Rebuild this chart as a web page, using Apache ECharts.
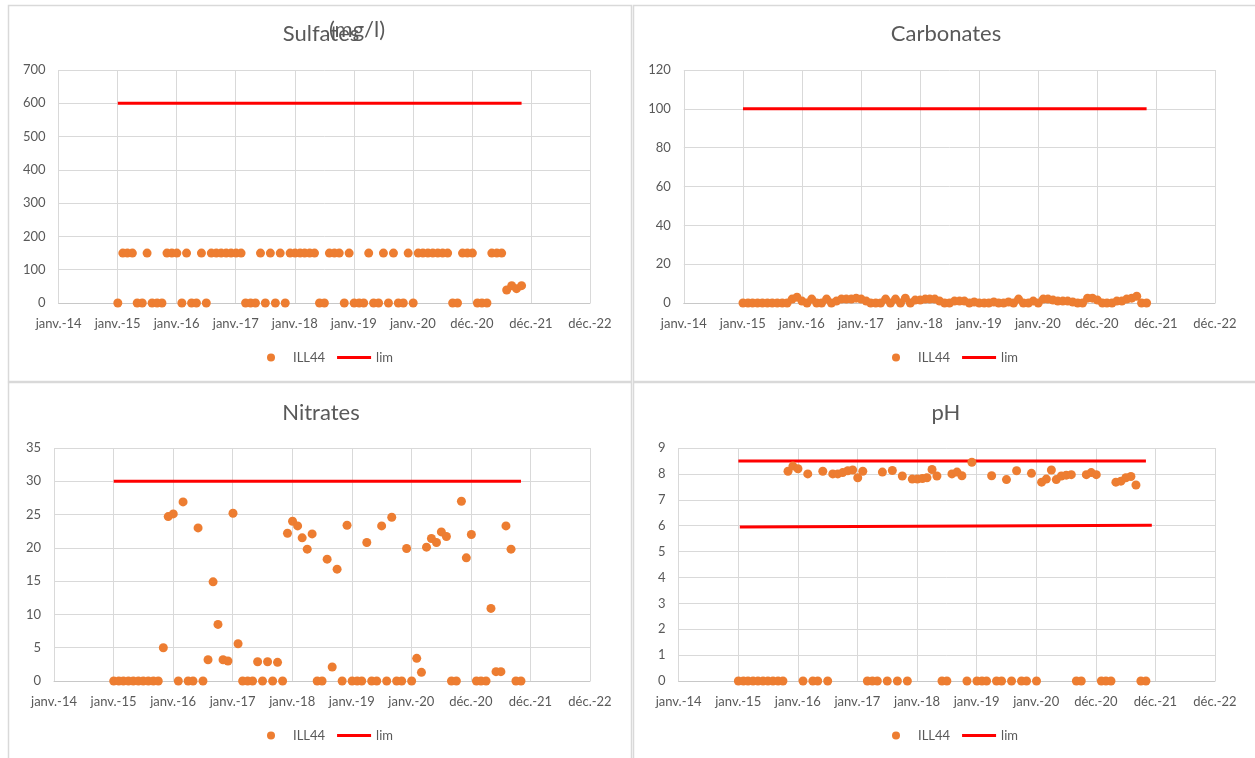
<!DOCTYPE html>
<html><head><meta charset="utf-8">
<script src="https://cdn.jsdelivr.net/npm/echarts@6/dist/echarts.min.js"></script>
<style>html,body{margin:0;padding:0;background:#fff}#c{width:1255px;height:758px}</style>
</head><body><div id="c"></div>
<script>
// ---- data ----
const sampleDates = [
  '2015-01-03','2015-02-03','2015-03-03','2015-04-03','2015-05-03','2015-06-03','2015-07-03','2015-08-03','2015-09-03','2015-10-03','2015-11-03','2015-12-03',
  '2016-01-03','2016-02-03','2016-03-03','2016-04-03','2016-05-03','2016-06-03','2016-07-03','2016-08-03','2016-09-03','2016-10-03','2016-11-03','2016-12-03',
  '2017-01-03','2017-02-03','2017-03-03','2017-04-03','2017-05-03','2017-06-03','2017-07-03','2017-08-03','2017-09-03','2017-10-03','2017-11-03','2017-12-03',
  '2018-01-03','2018-02-03','2018-03-03','2018-04-03','2018-05-03','2018-06-03','2018-07-03','2018-08-03','2018-09-03','2018-10-03','2018-11-03','2018-12-03',
  '2019-01-03','2019-02-03','2019-03-03','2019-04-03','2019-05-03','2019-06-03','2019-07-03','2019-08-03','2019-09-03','2019-10-03','2019-11-03','2019-12-03',
  '2020-01-03','2020-02-03','2020-03-03','2020-04-03','2020-05-03','2020-06-03','2020-07-03','2020-08-03','2020-09-03','2020-10-03','2020-11-03','2020-12-03',
  '2021-01-03','2021-02-03','2021-03-03','2021-04-03','2021-05-03','2021-06-03','2021-07-03','2021-08-03','2021-09-03','2021-10-03','2021-11-03'
];
const xTickLabels = ['janv.-14','janv.-15','janv.-16','janv.-17','janv.-18','janv.-19','janv.-20','déc.-20','déc.-21','déc.-22'];

const sulfates = [
  0,150,150,150,0,0,150,0,0,0,
  150,150,150,0,150,0,0,150,0,150,
  150,150,150,150,150,150,0,0,0,150,
  0,150,0,150,0,150,150,150,150,150,
  150,0,0,150,150,150,0,150,0,0,
  0,150,0,0,150,0,150,0,0,150,
  0,150,150,150,150,150,150,150,0,0,
  150,150,150,0,0,0,150,150,150,39,
  52,43,52
];
const carbonates = [
  0,0,0,0,0,0,0,0,0,0,
  2,3,1,0,2,0,0,2,0,1,
  2,2,2,2.5,2,1,0,0,0,2,
  0,2,0,2.5,0,1.5,1.5,2,2,2,
  1,0,0,1,1,1,0,0.5,0,0,
  0,0.5,0,0,0.5,0,2,0,0,1,
  0,2,2,1.5,1,1,1,0.5,0,0,
  2.5,2.5,1.5,0,0,0,1,1,2,2.5,
  3.5,0,0
];
const nitrates = [
  0,0,0,0,0,0,0,0,0,0,
  5.0,24.7,25.1,0,26.9,0,0,23.0,0,3.2,
  14.9,8.5,3.2,3.0,25.2,5.6,0,0,0,2.9,
  0,2.9,0,2.8,0,22.2,24.0,23.3,21.5,19.8,
  22.1,0,0,18.3,2.1,16.8,0,23.4,0,0,
  0,20.8,0,0,23.3,0,24.6,0,0,19.9,
  0,3.4,1.3,20.1,21.4,20.8,22.4,21.7,0,0,
  27.0,18.5,22.0,0,0,0,10.9,1.4,1.4,23.3,
  19.8,0,0
];
const ph = [
  0,0,0,0,0,0,0,0,0,0,
  8.1,8.3,8.2,0,8.0,0,0,8.1,0,8.0,
  8.0,8.05,8.12,8.15,7.85,8.1,0,0,0,8.07,
  0,8.13,0,7.92,0,7.8,7.8,7.82,7.85,8.17,
  7.92,0,0,8.0,8.07,7.93,0,8.45,0,0,
  0,7.93,0,0,7.78,0,8.12,0,0,8.02,
  0,7.68,7.8,8.15,7.78,7.92,7.95,7.97,0,0,
  7.97,8.05,7.97,0,0,0,7.68,7.72,7.85,7.9,
  7.57,0,0
];
const limDates = ['2015-01-03','2021-11-03'];
const limSulfates = [600, 600];
const limCarbonates = [100, 100];
const limNitrates = [30, 30];
const limPhHigh = [8.5, 8.5];
const limPhLowDates = ['2015-01-12','2021-12-09'];
const limPhLow = [5.95, 6.02];

// ---- helpers ----
const AXIS_START = Date.UTC(2014, 0, 2);
function dayOf(s) { const p = s.split('-').map(Number); return (Date.UTC(p[0], p[1]-1, p[2]) - AXIS_START) / 86400000; }
function pairs(dates, vals) { return dates.map((d, k) => [dayOf(d), vals[k]]); }

const TXT = '#595959', GRIDC = '#d9d9d9', FONT = 'Lato, "Open Sans", sans-serif';
// thin horizontal bar icon, bounding box 34x8 so it is not stretched
const LINE_ICON = 'path://M0,0L0.01,0L0,0.01Z M0,2.5H34V5.5H0Z M34,8L33.99,8L34,7.99Z';

const panels = [
  { title: 'Sulfates', vals: sulfates, lims: [[limDates, limSulfates]], ymax: 700, yint: 100,
    grid: { left: 58.6, top: 70, width: 531.4, height: 233 }, tx: 321, ty: 34, lx: 267, ly: 351 },
  { title: 'Carbonates', vals: carbonates, lims: [[limDates, limCarbonates]], ymax: 120, yint: 20,
    grid: { left: 683.8, top: 70, width: 531.2, height: 233 }, tx: 946, ty: 34, lx: 892, ly: 351 },
  { title: 'Nitrates', vals: nitrates, lims: [[limDates, limNitrates]], ymax: 35, yint: 5,
    grid: { left: 54, top: 448, width: 536, height: 233 }, tx: 321, ty: 413, lx: 267, ly: 729 },
  { title: 'pH', vals: ph, lims: [[limDates, limPhHigh], [limPhLowDates, limPhLow]], ymax: 9, yint: 1,
    grid: { left: 678.6, top: 448, width: 536.4, height: 233 }, tx: 946, ty: 413, lx: 892, ly: 729 }
];

const option = { animation: false, backgroundColor: '#fff', grid: [], xAxis: [], yAxis: [], series: [], legend: [], graphic: [] };

// panel frames
[[8.5,5.5,623,376],[633.5,5.5,630,376],[8.5,382.5,623,380],[633.5,382.5,630,380]].forEach(r => {
  option.graphic.push({ type: 'rect', silent: true, z: -10, shape: { x: r[0], y: r[1], width: r[2], height: r[3] },
    style: { fill: '#fff', stroke: GRIDC, lineWidth: 1.5 } });
});

panels.forEach((p, i) => {
  option.grid.push(p.grid);
  option.xAxis.push({
    type: 'value', gridIndex: i, min: 0, max: 3285, interval: 365,
    axisLine: { show: true, lineStyle: { color: '#c8c8c8', width: 1 } },
    axisTick: { show: false },
    splitLine: { show: true, lineStyle: { color: GRIDC, width: 1 } },
    axisLabel: { color: TXT, fontSize: 13, fontFamily: FONT, margin: 14, showMinLabel: true, showMaxLabel: true,
      formatter: v => xTickLabels[Math.round(v / 365)] }
  });
  option.yAxis.push({
    type: 'value', gridIndex: i, min: 0, max: p.ymax, interval: p.yint,
    axisLine: { show: false }, axisTick: { show: false },
    splitLine: { show: true, lineStyle: { color: GRIDC, width: 1 } },
    axisLabel: { color: TXT, fontSize: 13, fontFamily: FONT, margin: 13 }
  });
  p.lims.forEach(l => {
    option.series.push({ type: 'line', name: 'lim', xAxisIndex: i, yAxisIndex: i, data: pairs(l[0], l[1]),
      symbol: 'none', showSymbol: false, lineStyle: { color: '#ff0000', width: 3 }, itemStyle: { color: '#ff0000' }, z: 2 });
  });
  option.series.push({ type: 'scatter', name: 'ILL44', xAxisIndex: i, yAxisIndex: i, data: pairs(sampleDates, p.vals),
    symbol: 'circle', symbolSize: 9, itemStyle: { color: '#ed7d31', opacity: 1 }, z: 3 });
  option.legend.push({ left: p.lx, top: p.ly, padding: 0, itemWidth: 34, itemHeight: 8, itemGap: 12,
    textStyle: { color: TXT, fontSize: 13, fontFamily: FONT },
    data: [{ name: 'ILL44', icon: 'circle' }, { name: 'lim', icon: LINE_ICON }] });
  option.graphic.push({ type: 'text', silent: true, x: p.tx, y: p.ty,
    style: { text: p.title, align: 'center', verticalAlign: 'middle', fill: TXT, fontSize: 22, fontFamily: FONT } });
});
// overlapping unit label of the first chart
option.graphic.push({ type: 'text', silent: true, x: 357, y: 30,
  style: { text: '(mg/l)', align: 'center', verticalAlign: 'middle', fill: TXT, fontSize: 22, fontFamily: FONT } });

const chart = echarts.init(document.getElementById('c'), null, { renderer: 'canvas' });
chart.setOption(option);
</script></body></html>
